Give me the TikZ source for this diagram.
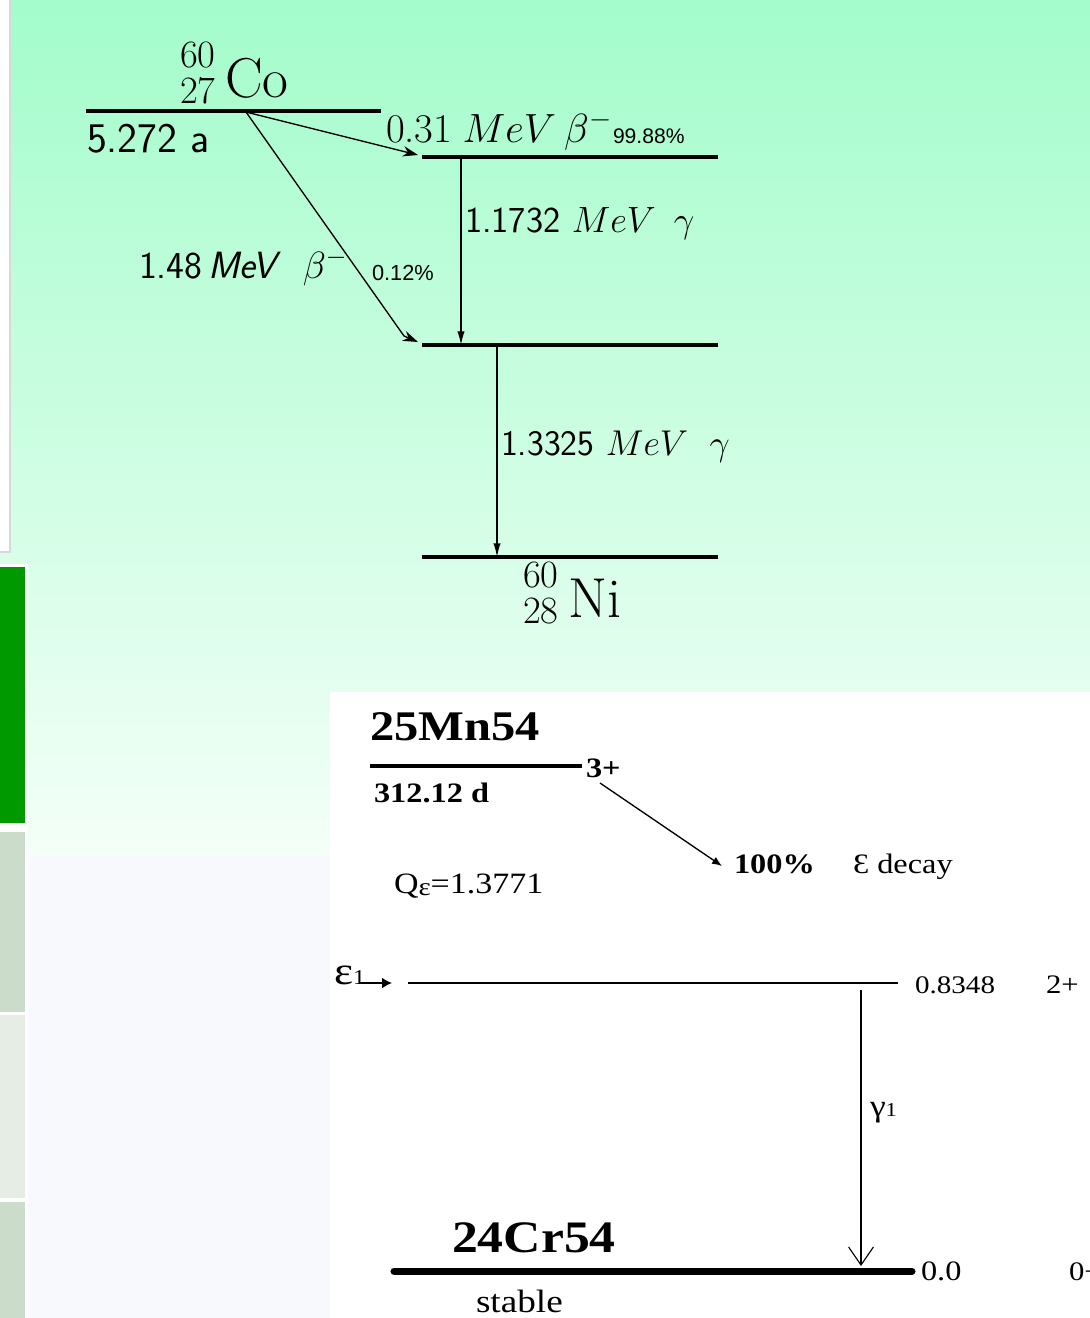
\RequirePackage{fix-cm}
\documentclass[tikz,border=0pt]{standalone}
\usepackage{fontspec}
\newfontfamily\tnr[FakeStretch=1.15]{Liberation Serif}
\newfontfamily\arl{Liberation Sans}
\usetikzlibrary{arrows.meta}
\newcommand\setfs[1]{\fontsize{#1}{#1}\selectfont}
\newcommand\nuclide[3]{\setfs{40}\rlap{\raisebox{0.52em}{\setfs{27.5}#1}}\raisebox{-0.11em}{\setfs{27.5}#2}\hspace{0.17em}#3}
\definecolor{mintTop}{RGB}{163,252,203}
\definecolor{mintBot}{RGB}{244,255,248}
\definecolor{paleBg}{RGB}{247,249,252}
\definecolor{barGreen}{RGB}{0,153,0}
\definecolor{barGrey}{RGB}{203,220,202}
\definecolor{barLight}{RGB}{229,237,228}
\definecolor{boxBorder}{RGB}{216,216,216}
\tikzset{
  lvl/.style={line width=2.5pt},
  thinln/.style={line width=0.95pt},
  betaarr/.style={thinln,-{Stealth[length=0.38cm,width=0.26cm]}},
  gamarr/.style={thinln,-{Latex[length=0.34cm,width=0.18cm]}},
  lbl/.style={anchor=base west,inner sep=0pt,outer sep=0pt},
}
\begin{document}
\begin{tikzpicture}[x=0.025cm,y=-0.025cm]
\useasboundingbox (0,0) rectangle (1090,1318);
\clip (0,0) rectangle (1090,1318);
% background
\fill[top color=mintTop,bottom color=mintBot] (0,0) rectangle (1090,855);
\fill[paleBg] (0,855) rectangle (1090,1318);
\fill[white] (330,692) rectangle (1090,1318);
% left sidebar
\fill[white] (0,0) rectangle (10,552);
\draw[boxBorder,line width=1.4pt] (10,0) -- (10,552) -- (0,552);
\fill[white] (0,564) rectangle (28,1318);
\fill[barGreen] (0,567) rectangle (25,823);
\fill[barGrey] (0,832) rectangle (25,1012);
\fill[barLight] (0,1015) rectangle (25,1198);
\fill[barGrey] (0,1202) rectangle (25,1318);

% ===== Co-60 scheme =====
\coordinate (L0a) at (86,111);  \coordinate (L0b) at (381,111);
\coordinate (L1a) at (422,157); \coordinate (L1b) at (718,157);
\coordinate (L2a) at (422,345); \coordinate (L2b) at (718,345);
\coordinate (L3a) at (422,557); \coordinate (L3b) at (718,557);
\draw[lvl] (L0a) -- (L0b);
\draw[lvl] (L1a) -- (L1b);
\draw[lvl] (L2a) -- (L2b);
\draw[lvl] (L3a) -- (L3b);

\coordinate (D0) at (246,112);
\coordinate (A1) at (418,155);
\coordinate (B2) at (404,336);
\coordinate (A2) at (418,342);
\draw[betaarr] (D0) -- (A1);
\draw[betaarr] (D0) -- (B2) -- (A2);

\coordinate (G1s) at (461,157); \coordinate (G1e) at (461,345);
\coordinate (G2s) at (497,345); \coordinate (G2e) at (497,557);
\draw[gamarr] (G1s) -- (G1e);
\draw[gamarr] (G2s) -- (G2e);

\node[lbl] (co) at (180,97) {\nuclide{60}{27}{Co}};
\node[lbl] (ni) at (523,617) {\nuclide{60}{28}{Ni}};
\node[lbl] (hl) at (87,152) {\setfs{30}\sffamily 5.272 a};
\node[lbl] (e1) at (386,142) {\setfs{29}0.31\hspace{0.25em}$MeV$\hspace{0.2em}$\beta^-$};
\node[lbl] (p1) at (613,143) {\setfs{15}\arl 99.88\%};
\node[lbl] (g1) at (465,232) {\setfs{26}\sffamily 1.1732 $MeV$\hspace{0.5em}$\gamma$};
\node[lbl] (b2) at (139,278) {\setfs{27}\sffamily 1.48\hspace{0.16em}\itshape MeV\hspace{0.7em}\upshape$\beta^-$};
\node[lbl] (p2) at (372,280) {\setfs{15.5}\arl 0.12\%};
\node[lbl] (g2) at (501,455) {\setfs{25.5}\sffamily 1.3325 $MeV$\hspace{0.6em}$\gamma$};

% ===== Mn-54 scheme =====
\coordinate (M0a) at (370,766); \coordinate (M0b) at (582,766);
\draw[line width=3pt] (M0a) -- (M0b);
\node[lbl] (mn) at (370,740) {\setfs{30}\tnr\bfseries 25Mn54};
\node[lbl] (sp3) at (586,777) {\setfs{20}\tnr\bfseries 3+};
\node[lbl] (hl2) at (374,802) {\setfs{20}\tnr\bfseries 312.12 d};
\node[lbl] (q) at (394,893) {\setfs{21}\tnr Q\raisebox{-2pt}{\setfs{18}ε}=1.3771};
\coordinate (S3) at (600,783);
\coordinate (P100) at (722,866);
\draw[thinln,-{Latex[length=0.25cm,width=0.2cm]}] (S3) -- (P100);
\node[lbl] (pc) at (734,873) {\setfs{20}\tnr\bfseries 100\%};
\node[lbl] (ed) at (853,873) {\setfs{20}\tnr Ɛ decay};

\coordinate (E1a) at (408,983); \coordinate (E1b) at (898,983);
\draw[line width=1.1pt] (E1a) -- (E1b);
\node[lbl] (eps) at (334,984) {\setfs{28}\tnr ε{\setfs{15}1}};
\coordinate (EA0) at (359,983); \coordinate (EA1) at (392,983);
\draw[line width=1.1pt,-{Latex[length=0.25cm,width=0.27cm]}] (EA0) -- (EA1);
\node[lbl] (en1) at (915,993) {\setfs{18}\tnr 0.8348};
\node[lbl] (sp1) at (1046,993) {\setfs{19}\tnr 2+};

\coordinate (GG0) at (861,990); \coordinate (GG1) at (861,1266);
\draw[line width=0.8pt,-{Straight Barb[length=0.45cm,width=0.62cm]}] (GG0) -- (GG1);
\node[lbl] (gam) at (870,1116) {\setfs{22}\tnr γ{\setfs{14}1}};

\coordinate (C0a) at (394,1271); \coordinate (C0b) at (912,1271);
\draw[line width=5pt,line cap=round] (C0a) -- (C0b);
\node[lbl] (cr) at (452,1252) {\setfs{32}\tnr\bfseries 24Cr54};
\node[lbl] (en0) at (921,1280) {\setfs{20}\tnr 0.0};
\node[lbl] (sp0) at (1069,1280) {\setfs{19}\tnr 0+};
\node[lbl] (st) at (476,1312) {\setfs{23}\tnr stable};
\end{tikzpicture}
\end{document}
